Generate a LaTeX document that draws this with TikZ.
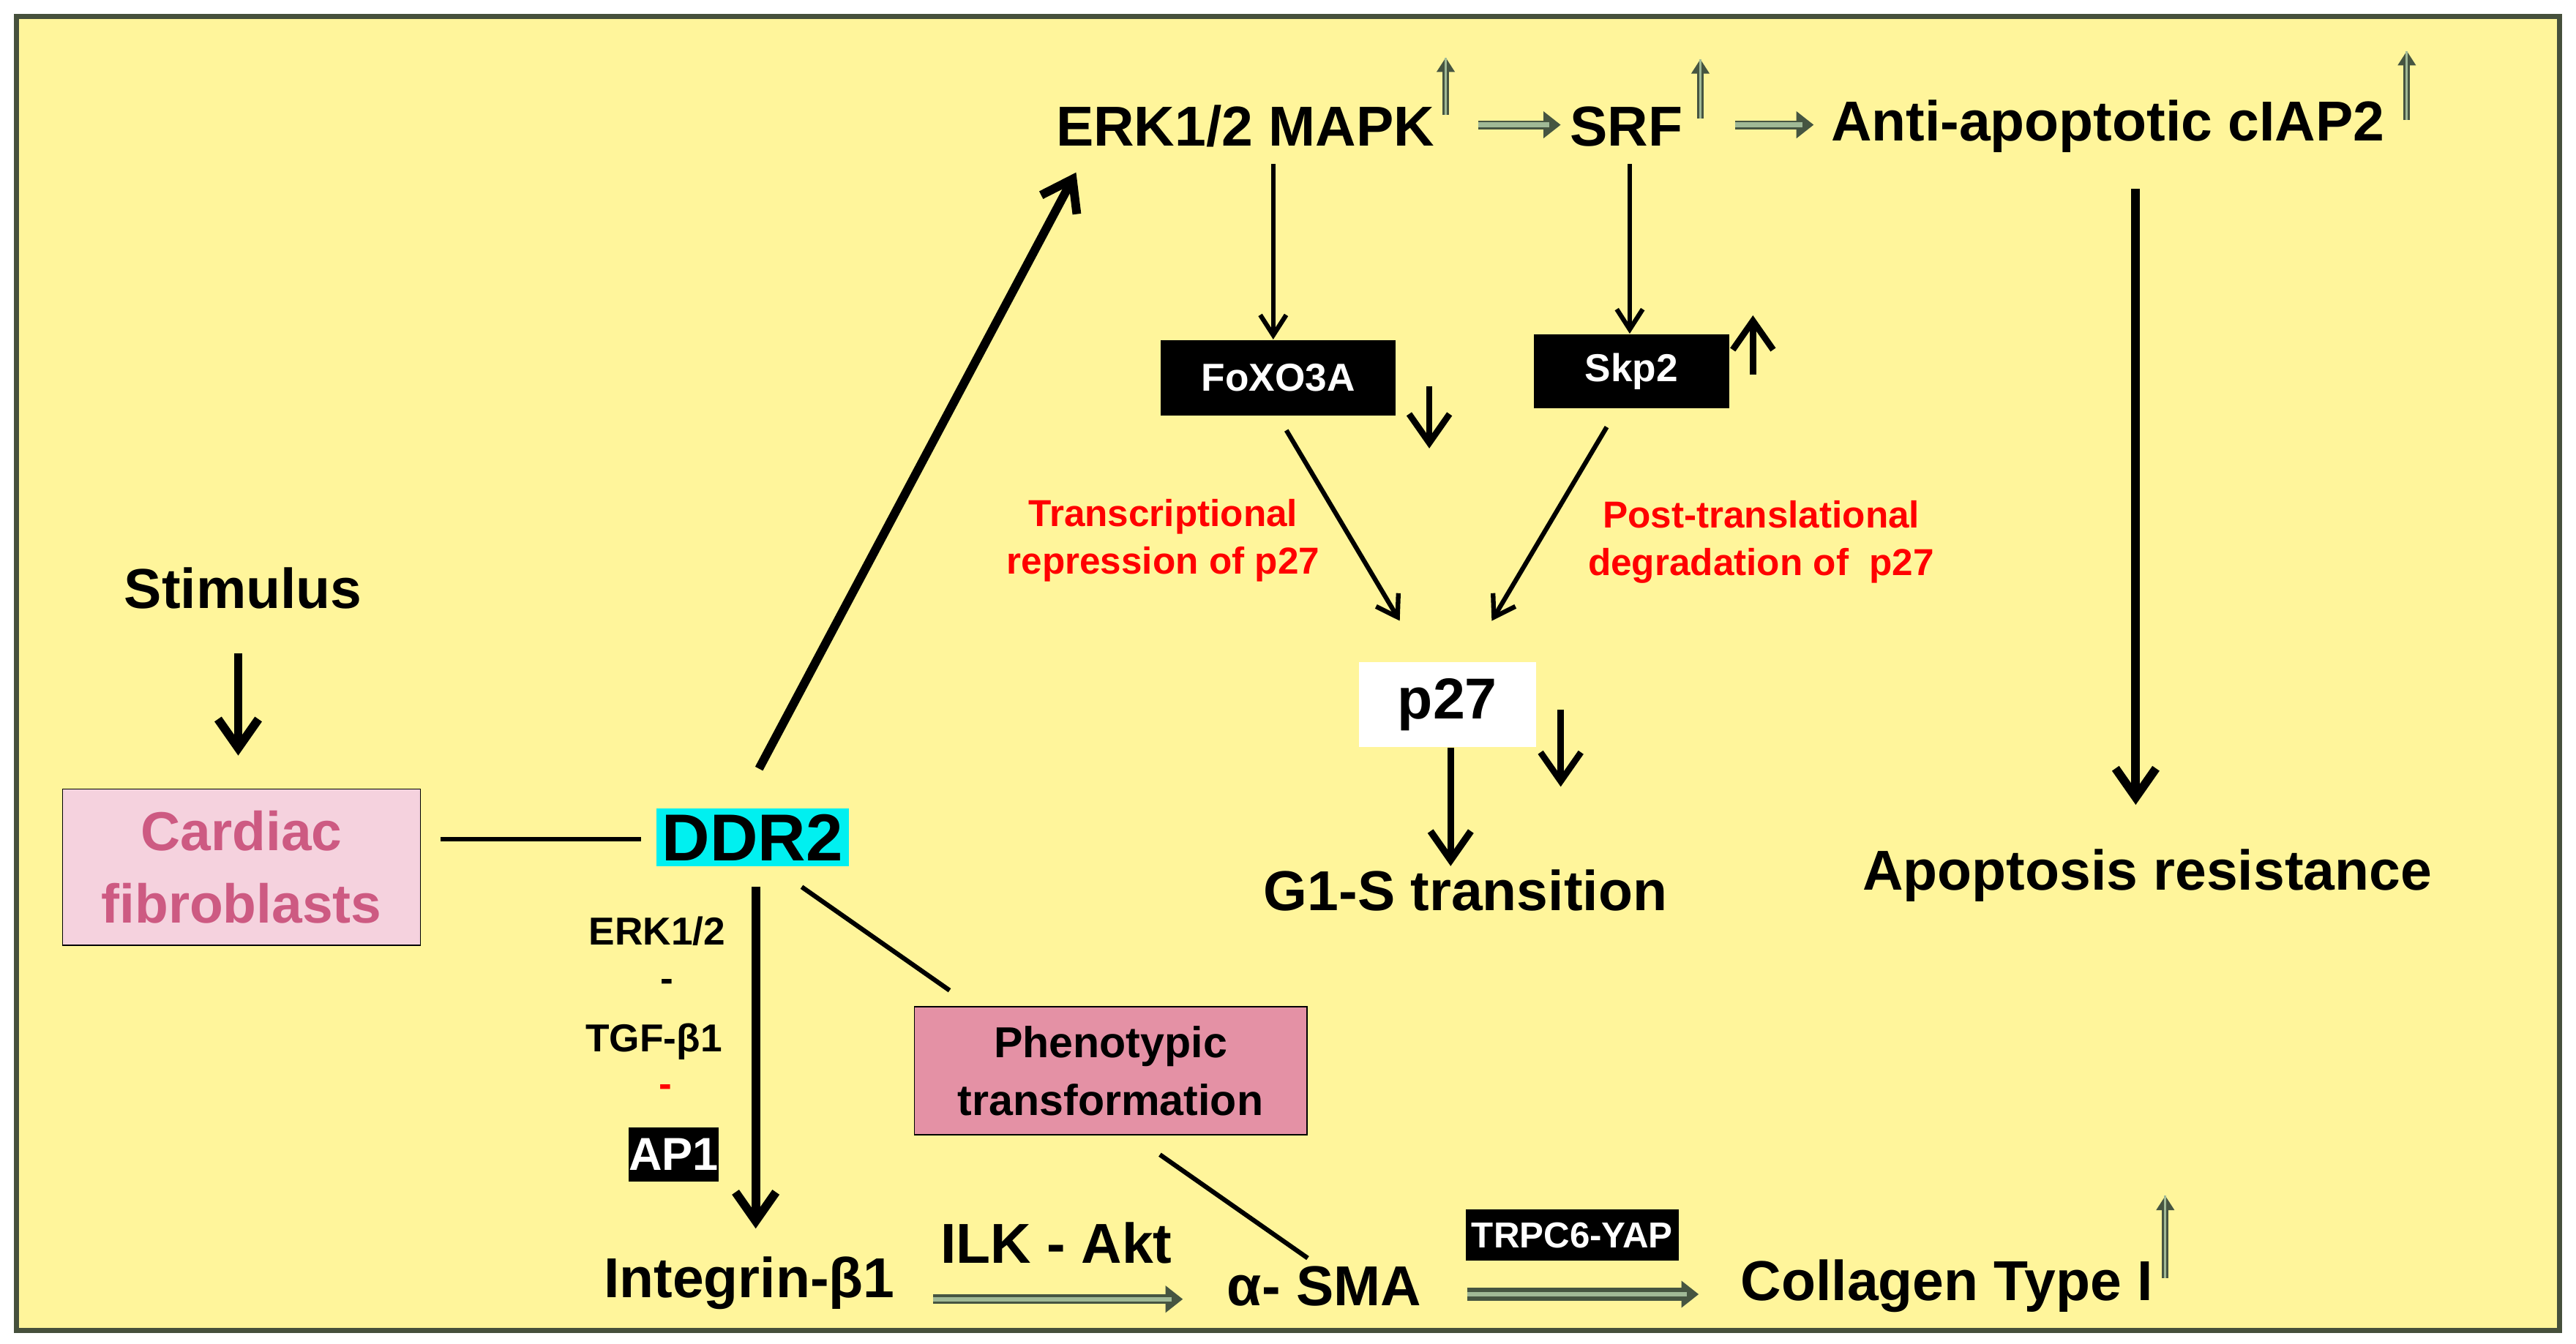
\documentclass[tikz,border=0pt]{standalone}
\usepackage{fontspec}
\setmainfont{Liberation Sans}
\usetikzlibrary{arrows.meta}
\definecolor{bg}{RGB}{255,245,155}
\definecolor{frame}{RGB}{70,80,60}
\definecolor{gdark}{RGB}{70,85,65}
\definecolor{glight}{RGB}{160,185,150}
\definecolor{cfpink}{RGB}{245,210,222}
\definecolor{cftext}{RGB}{205,90,130}
\definecolor{ptpink}{RGB}{228,145,165}
\definecolor{cyanb}{RGB}{0,240,240}
\begin{document}
\begin{tikzpicture}[x=0.02cm,y=-0.02cm,
  t/.style={font=\fontsize{19.5}{22}\selectfont\bfseries,inner sep=1pt},
  ts/.style={font=\fontsize{13.5}{15}\selectfont\bfseries,inner sep=1pt},
  red/.style={ts,text=red,align=center,font=\fontsize{13}{16.5}\selectfont\bfseries},
  blk/.style={fill=black,text=white,font=\fontsize{13.5}{15}\selectfont\bfseries,inner sep=0pt},
  ar/.style={line width=1.6pt,-{Straight Barb[length=7pt,width=9pt]}},
  bar/.style={line width=3pt,-{Straight Barb[length=10pt,width=14pt]}},
  ln/.style={line width=1.6pt},
  up/.style={draw=gdark,line width=2.2pt,-{Triangle[length=5pt,width=6pt]},
    postaction={draw=glight,line width=0.7pt,-{}}},
  garrow/.style={draw=gdark,line width=4pt,-{Triangle[length=6pt,width=9pt]},
    postaction={draw=glight,line width=1.6pt,shorten >=4pt,-{}}}]
\useasboundingbox (0,0) rectangle (1568,818);
\fill[white] (0,0) rectangle (1568,818);
\draw[frame,fill=bg,line width=1.8pt] (10,10) rectangle (1558,810);

% left
\node[t] (stim) at (148,358) {Stimulus};
\coordinate (s1) at (145,398); \coordinate (s2) at (145,460);
\draw[bar] (s1) -- (s2);
\node[draw=black,fill=cfpink,text=cftext,align=center,
  font=\fontsize{19}{25}\selectfont\bfseries,minimum width=4.36cm,minimum height=1.9cm] (cf) at (147,528) {Cardiac\\fibroblasts};
\node[fill=cyanb,font=\fontsize{23}{25}\selectfont\bfseries,inner sep=2pt] (ddr) at (458,510) {DDR2};
\draw[ln] (cf.east)+(12,-17) coordinate (c1) -- (390,511) coordinate (c2);

% top
\node[t] (erk) at (758,77) {ERK1/2 MAPK};
\node[t] (srf) at (990,77) {SRF};
\node[t] (ciap) at (1283,77) {Anti-apoptotic cIAP2};
\coordinate (d1) at (462,468); \coordinate (d2) at (655,105);
\draw[bar] (d1) -- (d2);
\coordinate (u1a) at (880,70); \coordinate (u1b) at (880,35);
\draw[up] (u1a) -- (u1b);
\coordinate (u2a) at (1035,72); \coordinate (u2b) at (1035,36);
\draw[up] (u2a) -- (u2b);
\coordinate (u3a) at (1465,73); \coordinate (u3b) at (1465,31);
\draw[up] (u3a) -- (u3b);
\coordinate (g1a) at (900,76); \coordinate (g1b) at (950,76);
\draw[garrow,line width=3pt] (g1a) -- (g1b);
\coordinate (g2a) at (1056,76); \coordinate (g2b) at (1104,76);
\draw[garrow,line width=3pt] (g2a) -- (g2b);

\node[blk,minimum width=2.86cm,minimum height=0.92cm] (fox) at (778,230) {FoXO3A};
\node[blk,minimum width=2.38cm,minimum height=0.9cm] (skp) at (993,226) {Skp2};
\coordinate (e1) at (775,100); \draw[ar] (e1) -- (fox.north -| e1);
\coordinate (f1) at (992,100); \draw[ar] (f1) -- (skp.north -| f1);
\coordinate (fd1) at (870,235); \coordinate (fd2) at (870,273);
\draw[bar,line width=2.2pt] (fd1) -- (fd2);
\coordinate (su1) at (1067,228); \coordinate (su2) at (1067,192);
\draw[bar,line width=2.2pt] (su1) -- (su2);

\node[fill=white,font=\fontsize{20}{22}\selectfont\bfseries,minimum width=2.16cm,minimum height=1.04cm] (p27) at (881,429) {p27};
\coordinate (x1) at (783,262); \coordinate (x2) at (852,378);
\draw[ar] (x1) -- (x2);
\coordinate (y1) at (978,260); \coordinate (y2) at (908,378);
\draw[ar] (y1) -- (y2);
\node[red] (tr) at (708,329) {Transcriptional\\repression of p27};
\node[red] (pt) at (1072,330) {Post-translational\\degradation of~~p27};
\coordinate (pd1) at (950,432); \coordinate (pd2) at (950,479);
\draw[bar,line width=2.2pt] (pd1) -- (pd2);
\node[t] (g1s) at (892,542) {G1-S transition};
\draw[bar,line width=2.4pt] (p27.south -| 883,0) -- (g1s.north -| 883,0);

\node[t] (apo) at (1307,533) {Apoptosis resistance};
\coordinate (a1) at (1300,115); \coordinate (a2) at (1300,490);
\draw[bar] (a1) -- (a2);

% bottom
\node[ts] (l1) at (400,567) {ERK1/2};
\node[ts] (l2) at (406,600) {-};
\node[ts] (l3) at (398,634) {TGF-β1};
\node[ts,text=red] (l4) at (405,664) {-};
\node[blk,font=\fontsize{16}{17}\selectfont\bfseries,minimum width=1.08cm,minimum height=0.66cm] (ap1) at (410,703) {AP1};
\node[t] (int) at (456,781) {Integrin-β1};
\coordinate (dd1) at (460,540); \coordinate (dd2) at (460,748);
\draw[bar] (dd1) -- (dd2);
\node[draw=black,fill=ptpink,align=center,font=\fontsize{15}{20}\selectfont\bfseries,
  minimum width=4.78cm,minimum height=1.56cm] (phe) at (676,652) {Phenotypic\\transformation};
\coordinate (p1) at (488,540); \draw[ln] (p1) -- (578,603) coordinate (p2);
\coordinate (q1) at (706,703); \draw[ln] (q1) -- (796,766) coordinate (q2);
\node[t] (ilk) at (643,757) {ILK - Akt};
\node[t] (sma) at (806,783) {α- SMA};
\coordinate (h1) at (568,791); \coordinate (h2) at (720,791);
\draw[garrow,line width=3.2pt] (h1) -- (h2);
\node[blk,font=\fontsize{12.5}{14}\selectfont\bfseries,minimum width=2.6cm,minimum height=0.62cm] (trp) at (957,752) {TRPC6-YAP};
\coordinate (k1) at (893,788); \coordinate (k2) at (1034,788);
\draw[garrow,line width=4.5pt] (k1) -- (k2);
\node[t] (col) at (1185,783) {Collagen Type I};
\coordinate (cu1) at (1318,778); \coordinate (cu2) at (1318,728);
\draw[up] (cu1) -- (cu2);
\end{tikzpicture}
\end{document}
